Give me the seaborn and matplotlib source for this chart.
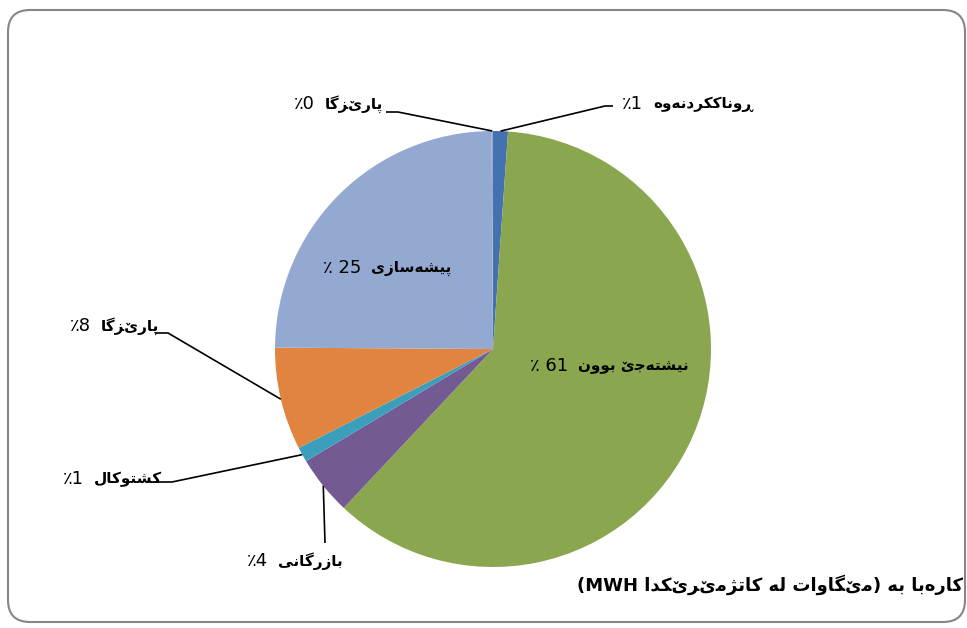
import matplotlib
matplotlib.use('Agg')
import matplotlib.pyplot as plt
import seaborn as sns
import numpy as np
from matplotlib.patches import FancyBboxPatch

# Data (share of electricity use, %)
categories = ['ڕوناککردنەوە', 'نیشتەجێ بوون', 'بازرگانی', 'کشتوکال',
              'پارێزگا', 'پیشەسازی', 'پارێزگا']
values = [1.1, 60.9, 4.4, 1.1, 7.6, 24.8, 0.1]
colors = ['#4472b0', '#8aa64f', '#735a93', '#3b9fbc', '#e0843f', '#94a9d2', '#94a9d2']
title_words = ['کارەبا', 'بە', 'مێگاوات', 'لە', 'کاتژمێرێکدا']
title_unit = 'MWH'

sns.set_theme(style='white')
plt.rcParams['font.family'] = ['DejaVu Sans']

W, H = 967, 628

# matplotlib does no Arabic shaping, so pick presentation forms by hand
FORMS = {
    'ا': ('\ufe8d', '\ufe8e'),
    'ب': ('\ufe8f', '\ufe90', '\ufe91', '\ufe92'),
    'ت': ('\ufe95', '\ufe96', '\ufe97', '\ufe98'),
    'ج': ('\ufe9d', '\ufe9e', '\ufe9f', '\ufea0'),
    'د': ('\ufea9', '\ufeaa'),
    'ر': ('\ufead', '\ufeae'),
    'ڕ': ('\u0695', '\u0695'),
    'ز': ('\ufeaf', '\ufeb0'),
    'ژ': ('\ufb8a', '\ufb8b'),
    'س': ('\ufeb1', '\ufeb2', '\ufeb3', '\ufeb4'),
    'ش': ('\ufeb5', '\ufeb6', '\ufeb7', '\ufeb8'),
    'ل': ('\ufedd', '\ufede', '\ufedf', '\ufee0'),
    'م': ('\ufee1', '\ufee2', '\ufee3', '\ufee4'),
    'ن': ('\ufee5', '\ufee6', '\ufee7', '\ufee8'),
    'و': ('\ufeed', '\ufeee'),
    'ە': ('\ufee9', '\ufeea'),
    'پ': ('\ufb56', '\ufb57', '\ufb58', '\ufb59'),
    'ک': ('\ufb8e', '\ufb8f', '\ufb90', '\ufb91'),
    'گ': ('\ufb92', '\ufb93', '\ufb94', '\ufb95'),
    'ی': ('\ufbfc', '\ufbfd', '\ufbfe', '\ufbff'),
    'ێ': ('\u06ce',) * 4,   # no presentation forms in Unicode
}


def rtl(text):
    glyphs = []
    for i, ch in enumerate(text):
        forms = FORMS.get(ch)
        if forms is None:
            glyphs.append(ch)
            continue
        prev = text[i - 1] if i > 0 else ''
        nxt = text[i + 1] if i + 1 < len(text) else ''
        after = prev in FORMS and len(FORMS[prev]) == 4
        before = len(forms) == 4 and nxt in FORMS
        idx = 3 if (after and before) else 1 if after else 2 if before else 0
        glyphs.append(forms[idx])
    return ''.join(reversed(glyphs))


def Y(py):
    return H - py


fig = plt.figure(figsize=(W / 100, H / 100), dpi=100)
ax = fig.add_axes([0, 0, 1, 1])

center = (493, Y(349))
radius = 218
wedges, _ = ax.pie(values, colors=colors, startangle=90, counterclock=False,
                   center=center, radius=radius, wedgeprops=dict(linewidth=0))
ax.set_xlim(0, W)
ax.set_ylim(0, H)
ax.set_aspect('equal')
ax.axis('off')

# label anchors (gap between number and word), leader elbows/ends in pixels
anchors = [(648, 104), (573, 366), (273, 561), (89, 479), (96, 326), (366, 268), (320, 104)]
inside = [False, True, False, False, False, True, False]
leaders = [((605, 106), (613, 106)), None, ((325, 543), (325, 543)),
           ((172, 482), (155, 482)), ((168, 333), (155, 333)), None,
           ((398, 112), (386, 112))]

for w, cat, v, (ax_x, ax_y), ins, ld in zip(wedges, categories, values, anchors, inside, leaders):
    pct = int(round(v))
    num = f'٪ {pct}' if ins else f'٪{pct}'
    ax.text(ax_x - 5, Y(ax_y), num, ha='right', va='center', fontsize=13, color='black')
    ax.text(ax_x + 5, Y(ax_y), rtl(cat), ha='left', va='center', fontsize=11,
            fontweight='bold', color='black')
    if ld is not None:
        mid = np.deg2rad((w.theta1 + w.theta2) / 2)
        sx = center[0] + radius * np.cos(mid)
        sy = center[1] + radius * np.sin(mid)
        (ex, ey), (tx, ty) = ld
        ax.plot([sx, ex, tx], [sy, Y(ey), Y(ty)], color='black', lw=1.2,
                solid_capstyle='butt')

# title at bottom right (visual order for right-to-left text)
title = (f'({title_unit} ' + rtl(title_words[4]) + ' ' + rtl(title_words[3]) + ' '
         + rtl(title_words[2]) + ') ' + rtl(title_words[1]) + ' ' + rtl(title_words[0]))
ax.text(963, Y(585), title, ha='right', va='center', fontsize=13, fontweight='bold',
        color='black')

# chart area frame
frame = FancyBboxPatch((8, Y(622)), 957, 612,
                       boxstyle='round,pad=0,rounding_size=22',
                       facecolor='none', edgecolor='#868686', lw=1.5, clip_on=False)
ax.add_patch(frame)

fig.savefig('out.png', dpi=100)
